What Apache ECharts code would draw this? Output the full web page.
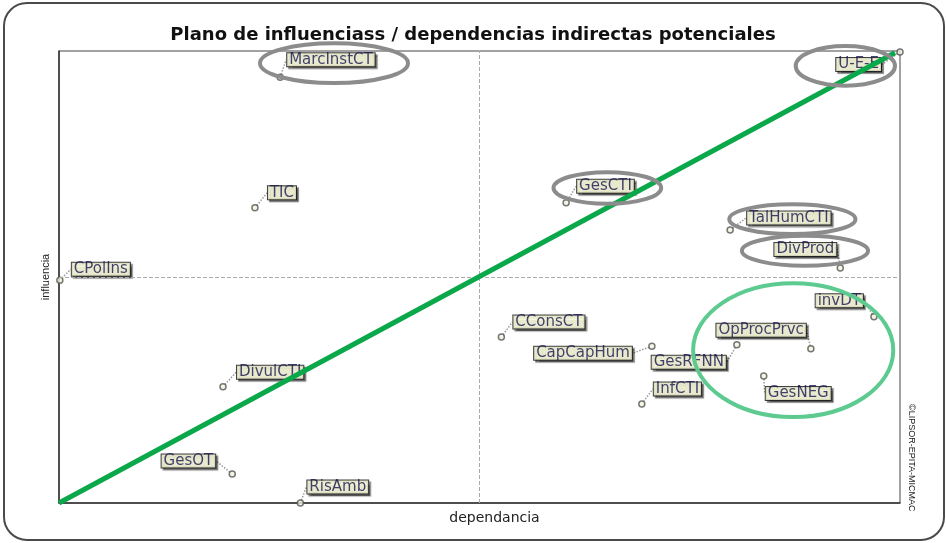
<!DOCTYPE html>
<html>
<head>
<meta charset="utf-8">
<script src="https://cdn.jsdelivr.net/npm/echarts@6/dist/echarts.min.js"></script>
<style>
  html, body { margin: 0; padding: 0; background: #fff; }
  #chart { position: absolute; left: 0; top: 0; width: 946px; height: 543px; }
  #frame {
    position: absolute; left: 3px; top: 2px; width: 942px; height: 539px;
    box-sizing: border-box; border: 2px solid #4a4a4a; border-radius: 24px;
    pointer-events: none;
  }
</style>
</head>
<body>
<div id="chart"></div>
<div id="frame"></div>
<script>
// variables (MICMAC plano indirecto potencial)
const names = ['MarcInstCT', 'TIC', 'CPolIns', 'U-E-E', 'GesCTI', 'TalHumCTI', 'DivProd', 'invDT',
  'CConsCT', 'CapCapHum', 'GesRFNN', 'OpProcPrvc', 'InfCTI', 'GesNEG', 'DivulCTI', 'GesOT', 'RisAmb']
// dependencia (eje x, 0-100)
const dependencia = [26.3, 23.3, 0.1, 100, 60.3, 79.8, 92.9, 96.9,
  52.6, 70.5, 80.6, 89.4, 69.3, 83.8, 19.5, 20.6, 28.7]
// influencia (eje y, 0-100)
const influencia = [94.2, 65.3, 49.3, 99.8, 66.4, 60.4, 52.0, 41.2,
  36.7, 34.7, 35.0, 34.1, 21.9, 28.1, 25.7, 6.4, 0]

// diagonal verde
const diagX = [0, 99.4]
const diagY = [0, 99.6]

// ellipses: centro x, centro y, radio x, radio y (en unidades de los ejes)
const grayEllipses = [
  [32.7, 97.3, 8.8, 4.4],
  [93.5, 96.7, 5.9, 4.4],
  [65.2, 69.7, 6.4, 3.5],
  [87.2, 62.8, 7.5, 3.3],
  [88.7, 55.8, 7.5, 3.3]
]
const greenEllipses = [
  [87.3, 33.8, 11.9, 14.8]
]

// desplazamiento de etiquetas [dx, dy, align] en px
const labelOffsets = [
  [7, -17.5, 'left'], [13, -15, 'left'], [12, -11, 'left'], [-19, 12.5, 'right'],
  [11, -16.5, 'left'], [17, -12, 'left'], [-4, -18.5, 'right'], [-11, -16, 'right'],
  [12, -15, 'left'], [-20, 7, 'right'], [-11, 17.5, 'right'], [-5, -18.5, 'right'],
  [12, -15, 'left'], [2, 17.5, 'left'], [14, -14.5, 'left'], [-17, -13, 'right'], [7, -16, 'left']
]

const chart = echarts.init(document.getElementById('chart'))

function ellipseSeries(data, color, z) {
  return {
    type: 'custom',
    z: z,
    silent: true,
    clip: false,
    data: data,
    renderItem(params, api) {
      const c = api.coord([api.value(0), api.value(1)])
      const s = api.size([api.value(2), api.value(3)])
      return {
        type: 'ellipse',
        shape: { cx: c[0], cy: c[1], rx: s[0], ry: s[1] },
        style: { fill: 'none', stroke: color, lineWidth: 4 }
      }
    }
  }
}

chart.setOption({
  animation: false,
  backgroundColor: '#fff',
  title: {
    text: 'Plano de influenciass / dependencias indirectas potenciales',
    left: 'center',
    top: 21,
    textStyle: { fontFamily: 'DejaVu Sans', fontWeight: 'bold', fontSize: 18, color: '#111' }
  },
  grid: { left: 59, top: 51, right: 46, bottom: 40, show: true, borderColor: '#444', borderWidth: 1 },
  xAxis: {
    type: 'value', min: 0, max: 100,
    name: 'dependancia', nameLocation: 'middle', nameGap: 8,
    nameTextStyle: { fontFamily: 'DejaVu Sans', fontSize: 14, color: '#222', padding: [0, 0, 0, 30] },
    axisLine: { show: true, lineStyle: { color: '#333', width: 1.5 } },
    axisTick: { show: false }, axisLabel: { show: false }, splitLine: { show: false }
  },
  yAxis: {
    type: 'value', min: 0, max: 100,
    name: 'influencia', nameLocation: 'middle', nameGap: 8, nameRotate: 90,
    nameTextStyle: { fontFamily: 'Liberation Sans', fontSize: 11, color: '#222' },
    axisLine: { show: true, lineStyle: { color: '#333', width: 1.5 } },
    axisTick: { show: false }, axisLabel: { show: false }, splitLine: { show: false }
  },
  graphic: [{
    type: 'text',
    x: 911, y: 404,
    rotation: -Math.PI / 2,
    style: {
      text: '©LIPSOR-EPITA-MICMAC',
      fontFamily: 'Liberation Sans', fontSize: 9,
      fill: '#222', textAlign: 'left', textVerticalAlign: 'middle'
    }
  }],
  series: [
    {
      type: 'scatter',
      z: 2,
      clip: false,
      symbol: 'circle',
      symbolSize: 6,
      itemStyle: { color: '#f4f1dc', borderColor: '#555', borderWidth: 1.5 },
      data: names.map((n, i) => ({ name: n, value: [dependencia[i], influencia[i]] })),
      label: {
        show: true,
        formatter: '{b}',
        fontFamily: 'DejaVu Sans',
        fontSize: 15,
        lineHeight: 13,
        color: '#141450',
        backgroundColor: '#ffffdc',
        borderColor: '#111',
        borderWidth: 1,
        padding: [0, 2, 0, 2],
        shadowColor: 'rgba(0,0,0,0.55)',
        shadowOffsetX: 2,
        shadowOffsetY: 2,
        shadowBlur: 1
      },
      labelLine: {
        show: true,
        lineStyle: { color: '#999', width: 1.5, type: 'dotted' }
      },
      labelLayout(params) {
        const o = labelOffsets[params.dataIndex]
        const r = params.rect
        return {
          x: r.x + r.width / 2 + o[0],
          y: r.y + r.height / 2 + o[1],
          align: o[2],
          verticalAlign: 'middle'
        }
      },
      markLine: {
        silent: true,
        symbol: 'none',
        label: { show: false },
        lineStyle: { color: '#aaa', type: 'dashed', width: 1 },
        data: [{ xAxis: 50 }, { yAxis: 50 }]
      }
    },
    {
      type: 'line',
      z: 5,
      silent: true,
      symbol: 'none',
      lineStyle: { color: '#0aa84a', width: 5 },
      data: diagX.map((x, i) => [x, diagY[i]])
    },
    ellipseSeries(grayEllipses, '#8c8c8c', 6),
    ellipseSeries(greenEllipses, '#5dcb8f', 6)
  ]
})
</script>
</body>
</html>
